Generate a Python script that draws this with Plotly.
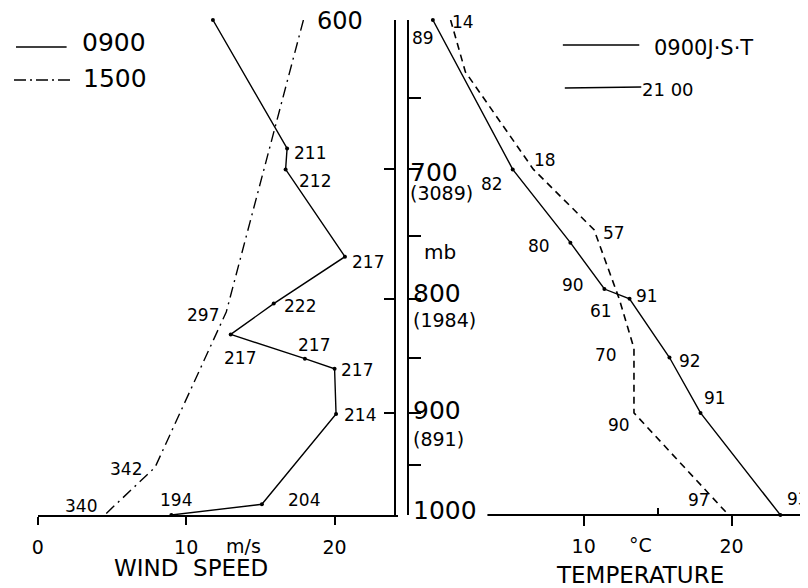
import math
import plotly.graph_objects as go

# ---------------- data ----------------
# Wind speed profile, 0900 (solid) – pressure (mb), speed (m/s), direction labels
wind0900_p = [600, 685, 700, 766, 804, 830, 851, 860, 901, 989, 1000]
wind0900_speed = [11.8, 16.8, 16.7, 20.7, 15.9, 13.0, 18.0, 20.0, 20.1, 15.1, 9.0]
wind0900_dir = ["", "211", "212", "217", "222", "217", "217", "217", "214", "204", "194"]

# Wind speed profile, 1500 (dash-dot)
wind1500_p = [600, 811, 952, 1000]
wind1500_speed = [17.9, 12.7, 7.9, 4.5]
wind1500_dir = ["", "297", "342", "340"]

# Temperature profile, 0900 JST (solid) – labels are relative humidity
temp0900_p = [600, 700, 755, 792, 800, 850, 900, 1000]
temp0900_t = [-0.2, 5.2, 9.1, 11.4, 13.1, 15.8, 17.9, 23.3]
temp0900_rh = ["89", "82", "80", "90", "91", "92", "91", "93"]

# Temperature profile, 2100 (dashed)
temp2100_p = [600, 633, 700, 745, 800, 842, 900, 1000]
temp2100_t = [1.0, 2.0, 6.6, 10.7, 12.4, 13.4, 13.4, 19.8]
temp2100_rh = ["14", "", "18", "57", "61", "70", "90", "97"]

# Pressure levels and standard heights
level_p = [700, 800, 900, 1000]
level_text = ["700", "800", "900", "1000"]
level_height = ["(3089)", "(1984)", "(891)", ""]

wind_ticks = [0, 10, 20]
temp_ticks = [10, 20]

# ---------------- label offsets (screen px: right, down) ----------------
wind0900_off = [(0, 0), (23, 5), (29, 12), (23, 5), (26, 2), (9, 24), (9, -14),
                (22, 1), (24, 1), (42, -4), (5, -15)]
wind1500_off = [(0, 0), (-23, 3), (-29, 2), (-24, -9)]
temp0900_off = [(-10, 18), (-21, 15), (-31, 3), (-31, -4), (17, -3), (21, 3),
                (14, -15), (18, -16)]
temp2100_off = [(12, 2), (0, 0), (12, -9), (20, 3), (-18, 12), (-28, 7),
                (-15, 12), (-30, -15)]

# ---------------- layout helpers ----------------
# the page body has an 8px margin, so the figure is 8px smaller and all
# window-pixel positions are shifted by 8px
OFF = 8
W, H = 808 - OFF, 588 - OFF
FONT = "DejaVu Sans"


def fx(xp):
    return (xp - OFF) / W


def fy(yp):
    return 1 - (yp - OFF) / H


YDOM = [fy(515), fy(20)]
YRANGE = [3.0, math.log10(600)]
LW = 1.4

fig = go.Figure()

fig.add_trace(go.Scatter(
    x=wind0900_speed, y=wind0900_p, xaxis="x", yaxis="y", mode="lines+markers",
    line=dict(color="black", width=LW), marker=dict(color="black", size=4),
    cliponaxis=False, showlegend=False, hoverinfo="skip"))
fig.add_trace(go.Scatter(
    x=wind1500_speed, y=wind1500_p, xaxis="x", yaxis="y", mode="lines",
    line=dict(color="black", width=LW, dash="11px,5px,2px,5px"),
    cliponaxis=False, showlegend=False, hoverinfo="skip"))
fig.add_trace(go.Scatter(
    x=temp0900_t, y=temp0900_p, xaxis="x2", yaxis="y2", mode="lines+markers",
    line=dict(color="black", width=LW), marker=dict(color="black", size=4),
    cliponaxis=False, showlegend=False, hoverinfo="skip"))
fig.add_trace(go.Scatter(
    x=temp2100_t, y=temp2100_p, xaxis="x2", yaxis="y2", mode="lines",
    line=dict(color="black", width=LW + 0.2, dash="7px,5px"),
    cliponaxis=False, showlegend=False, hoverinfo="skip"))

annotations = []


def point_labels(xs, ps, texts, offs, xr, yr):
    for xv, pv, t, (dx, dy) in zip(xs, ps, texts, offs):
        if not t:
            continue
        annotations.append(dict(
            x=xv, y=math.log10(pv), xref=xr, yref=yr, text=t, showarrow=False,
            xanchor="center", yanchor="middle", xshift=dx, yshift=-dy,
            font=dict(family=FONT, size=17, color="black")))


point_labels(wind0900_speed, wind0900_p, wind0900_dir, wind0900_off, "x", "y")
point_labels(wind1500_speed, wind1500_p, wind1500_dir, wind1500_off, "x", "y")
point_labels(temp0900_t, temp0900_p, temp0900_rh, temp0900_off, "x2", "y2")
point_labels(temp2100_t, temp2100_p, temp2100_rh, temp2100_off, "x2", "y2")

# pressure level labels
annotations.append(dict(x=fx(336), y=math.log10(600), xref="paper", yref="y",
                        text="600", showarrow=False, xanchor="center", yanchor="middle",
                        yshift=-1, font=dict(family=FONT, size=24, color="black")))
lvl_shift = [-3, 5, 2, 5]
hgt_shift = [-24, -21, -26, 0]
lvl_x = [405, 408, 408, 408]
for p, t, h, s1, s2, lx in zip(level_p, level_text, level_height, lvl_shift, hgt_shift, lvl_x):
    annotations.append(dict(x=fx(lx), y=math.log10(p), xref="paper", yref="y",
                            text=t, showarrow=False, xanchor="left", yanchor="middle",
                            yshift=s1, font=dict(family=FONT, size=25, color="black")))
    if h:
        annotations.append(dict(x=fx(lx), y=math.log10(p), xref="paper", yref="y",
                                text=h, showarrow=False, xanchor="left", yanchor="middle",
                                yshift=s2, font=dict(family=FONT, size=19, color="black")))


# units / axis titles / legends
def txt(t, xp, yp, size, anchor="center"):
    annotations.append(dict(x=fx(xp), y=fy(yp), xref="paper", yref="paper", text=t,
                            showarrow=False, xanchor=anchor, yanchor="middle",
                            font=dict(family=FONT, size=size, color="black")))


txt("mb", 419, 252, 20, "left")
txt("m/s", 239, 546, 19)
txt("WIND  SPEED", 186, 568, 23)
txt("°C", 639, 545, 19)
txt("TEMPERATURE", 639, 575, 23)
txt("0900", 74, 42, 25, "left")
txt("1500", 76, 79, 25, "left")
txt("0900J·S·T", 651, 48, 21, "left")
txt("21 00", 639, 90, 18, "left")

shapes = [
    # legend keys
    dict(type="line", xref="paper", yref="paper", x0=fx(10), x1=fx(61), y0=fy(47), y1=fy(47),
         line=dict(color="black", width=1.5)),
    dict(type="line", xref="paper", yref="paper", x0=fx(8), x1=fx(66), y0=fy(80), y1=fy(80),
         line=dict(color="black", width=1.5, dash="12px,4px,2px,4px")),
    dict(type="line", xref="paper", yref="paper", x0=fx(561), x1=fx(638), y0=fy(45), y1=fy(45),
         line=dict(color="black", width=1.5)),
    dict(type="line", xref="paper", yref="paper", x0=fx(563), x1=fx(640), y0=fy(88), y1=fy(87),
         line=dict(color="black", width=1.5)),
    # temperature baseline
    dict(type="line", xref="paper", yref="paper", x0=fx(485), x1=1.0, y0=fy(515), y1=fy(515),
         line=dict(color="black", width=1.8)),
]

axis_common = dict(showgrid=False, zeroline=False, color="black", linecolor="black",
                   tickcolor="black", tickwidth=1.5, linewidth=1.8)

fig.update_layout(
    width=W, height=H, margin=dict(l=0, r=0, t=0, b=0),
    paper_bgcolor="white", plot_bgcolor="rgba(0,0,0,0)", showlegend=False,
    font=dict(family=FONT, color="black"),
    xaxis=dict(domain=[fx(32), fx(395)], range=[0, (395 - 32) / 14.95], anchor="y",
               showline=True, ticks="outside", ticklen=8, tickvals=wind_ticks,
               ticktext=[str(v) for v in wind_ticks], ticklabelstandoff=6,
               tickfont=dict(family=FONT, size=19, color="black"), **axis_common),
    yaxis=dict(type="log", range=YRANGE, domain=YDOM, anchor="free", position=fx(392),
               side="right", showline=True, ticks="inside", ticklen=10,
               tickvals=[600, 700, 800, 900, 1000], showticklabels=False, **axis_common),
    xaxis2=dict(domain=[fx(405), 1.0], range=[(405 - 433) / 14.9, (808 - 433) / 14.9],
                anchor="y2", showline=False, ticks="outside", ticklen=10,
                tickvals=temp_ticks, ticktext=[str(v) for v in temp_ticks],
                ticklabelstandoff=4,
                minor=dict(tickvals=[15], ticks="inside", ticklen=7, tickcolor="black"),
                tickfont=dict(family=FONT, size=19, color="black"), **axis_common),
    yaxis2=dict(type="log", range=YRANGE, domain=YDOM, anchor="free", position=fx(405),
                side="left", showline=True, ticks="inside", ticklen=12,
                tickvals=[600, 650, 700, 750, 800, 850, 900, 950, 1000],
                showticklabels=False, **axis_common),
    yaxis3=dict(type="log", range=YRANGE, domain=YDOM, anchor="free", overlaying="y",
                position=fx(805), side="left", showline=False, ticks="outside", ticklen=11,
                tickvals=[600, 700, 800, 900], showticklabels=False, **axis_common),
    annotations=annotations,
    shapes=shapes,
)

fig.write_html("out.html")
